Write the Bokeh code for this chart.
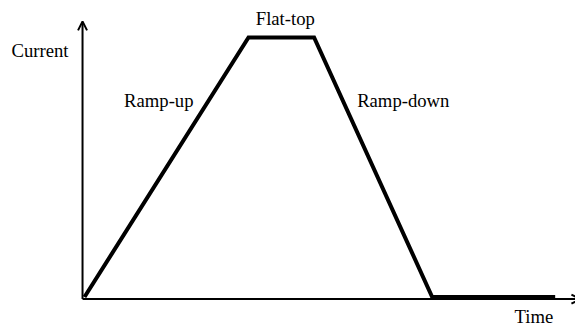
from bokeh.plotting import figure
from bokeh.models import Range1d, Arrow, OpenHead, Label
from bokeh.embed import file_html
from bokeh.resources import INLINE

# Data: a current pulse (ramp-up, flat-top, ramp-down, zero)
time = [0.0, 1.0, 1.4, 2.12, 2.87]
current = [0.0, 1.0, 1.0, 0.0, 0.0]

axis_title_x = "Time"
axis_title_y = "Current"
phase_labels = ["Ramp-up", "Flat-top", "Ramp-down"]

FONT = "Liberation Serif"
FSIZE = "14pt"

p = figure(width=575, height=329, output_backend="svg", toolbar_location=None,
           x_range=Range1d(-0.5122, 2.9939), y_range=Range1d(-0.1252, 1.1426),
           min_border=0, min_border_left=0, min_border_right=0,
           min_border_top=0, min_border_bottom=0)
p.axis.visible = False
p.grid.visible = False
p.outline_line_color = None
p.background_fill_color = "white"
p.border_fill_color = "white"

# axes drawn as arrows
ox, oy = -0.012, -0.008
p.add_layout(Arrow(end=OpenHead(size=9, line_width=2, line_color="black"),
                   x_start=ox, y_start=oy, x_end=ox, y_end=1.062,
                   line_width=2, line_color="black"))
p.add_layout(Arrow(end=OpenHead(size=9, line_width=2, line_color="black"),
                   x_start=ox, y_start=oy, x_end=3.024, y_end=oy,
                   line_width=2, line_color="black"))

# the pulse
p.line(time, current, line_width=4, line_color="black", line_join="miter")

def lab(text, x, y, align, xo, yo):
    p.add_layout(Label(x=x, y=y, text=text, text_align=align, text_baseline="alphabetic",
                       x_offset=xo, y_offset=yo, text_font=FONT, text_font_size=FSIZE,
                       text_color="black"))

ramp_up_mid_t = (time[0] + time[1]) / 2
ramp_up_mid_i = (current[0] + current[1]) / 2
flat_mid_t = (time[1] + time[2]) / 2
ramp_dn_mid_t = (time[2] + time[3]) / 2
ramp_dn_mid_i = (current[2] + current[3]) / 2

lab(axis_title_y, ox, current[1], "right", -14, -13)
lab(phase_labels[0], ramp_up_mid_t, ramp_up_mid_i, "right", 27, 67)
lab(phase_labels[1], flat_mid_t, current[1], "center", 4, 19)
lab(phase_labels[2], ramp_dn_mid_t, ramp_dn_mid_i, "left", -16, 67)
lab(axis_title_x, time[-1], oy, "right", -2, -17)

open("out.html", "w").write(file_html(p, INLINE))
